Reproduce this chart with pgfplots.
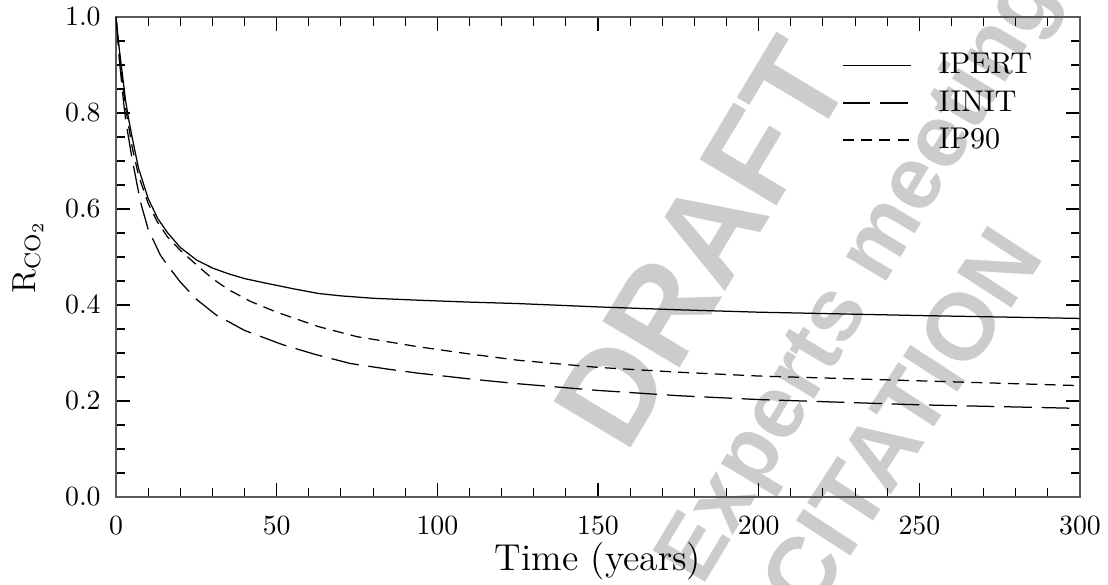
\documentclass[border=0pt]{standalone}
\usepackage{fontspec}
\newfontfamily\wmfont{Liberation Sans}
\usepackage{pgfplots}
\pgfplotsset{compat=1.18}

\pgfplotstableread{
t r
0 1.0
1 0.935
2 0.88
3 0.825
4 0.785
5 0.75
7 0.685
10 0.622
13 0.58
16 0.551
20 0.52
25 0.494
30 0.477
35 0.465
40 0.455
47 0.445
55 0.434
63 0.424
70 0.419
80 0.414
94 0.410
110 0.406
125 0.403
150 0.396
175 0.390
200 0.385
250 0.378
300 0.372
}\ipert

\pgfplotstableread{
t r
0 1.0
1 0.915
2 0.845
3 0.785
5 0.705
7.6 0.615
10 0.558
13.8 0.504
16 0.483
20 0.448
25 0.412
31 0.38
40 0.347
52 0.317
62 0.297
73 0.278
85 0.266
94 0.258
110 0.246
125 0.236
150 0.222
175 0.211
200 0.203
250 0.192
297 0.185
}\iinit

\pgfplotstableread{
t r
0 1.0
1 0.925
2 0.865
3 0.81
5 0.73
7 0.67
10 0.612
12.8 0.574
16 0.542
20 0.514
25 0.484
30 0.455
35 0.432
42 0.407
50 0.385
63 0.355
75 0.334
94 0.313
110 0.298
125 0.285
150 0.270
175 0.260
200 0.252
250 0.242
300 0.232
}\ipninety

\begin{document}
\begin{tikzpicture}
\useasboundingbox (-41.76pt,-31.68pt) rectangle (357.12pt,178.92pt);
\begin{scope}[every node/.style={text=black!20, inner sep=0pt}]
\node[rotate=59, font=\wmfont\bfseries\fontsize{47}{47}\selectfont] at (211.0pt,91.4pt) {DRAFT};
\node[rotate=59, font=\wmfont\bfseries\fontsize{32}{32}\selectfont] at (268.2pt,78.5pt) {Experts meeting};
\node[rotate=57, font=\wmfont\bfseries\fontsize{34}{34}\selectfont] at (282.5pt,27.7pt) {CITATION};
\end{scope}
\begin{axis}[
  width=347.04pt, height=172.8pt, scale only axis,
  xmin=0, xmax=300, ymin=0, ymax=1,
  xtick={0,50,...,300}, ytick={0,0.2,0.4,0.6,0.8,1.0},
  minor x tick num=4, minor y tick num=3,
  tick pos=both, tick align=inside,
  major tick length=5pt, minor tick length=3.3pt,
  every tick/.style={black, line width=0.4pt},
  axis line style={black!65, line width=0.55pt},
  yticklabel style={/pgf/number format/fixed, /pgf/number format/fixed zerofill, /pgf/number format/precision=1},
  y tick label style={xshift=-2pt},
  x tick label style={yshift=-3.7pt},
  tick label style={font=\fontsize{10}{11}\selectfont},
  scaled y ticks=false,
  xlabel={Time (years)},
  ylabel={$\mathrm{R_{CO_2}}$},
  every axis x label/.style={at={(axis description cs:0.5,0)}, anchor=base, yshift=-26.3pt, font=\fontsize{13.5}{15}\selectfont},
  every axis y label/.style={at={(axis description cs:-0.084,0.5)}, anchor=base, rotate=90, font=\fontsize{12}{14}\selectfont},
  legend image code/.code={\draw[#1] (0pt,0pt) -- (24.5pt,0pt);},
  legend cell align=left,
  legend style={draw=none, fill=none, inner sep=0pt, outer sep=0pt,
    at={(0.753,0.924)}, anchor=north west, row sep=4.5pt,
    nodes={inner sep=0pt},
    /tikz/every odd column/.append style={column sep=10pt},
    font=\fontsize{10.8}{12}\selectfont},
]
\addplot[black, line width=0.45pt] table[x=t, y=r] {\ipert};
\addlegendentry{IPERT}
\addplot[black, line width=0.45pt, dash pattern=on 10pt off 3.5pt] table[x=t, y=r] {\iinit};
\addlegendentry{IINIT}
\addplot[black, line width=0.45pt, dash pattern=on 4pt off 2.6pt] table[x=t, y=r] {\ipninety};
\addlegendentry{IP90}
\end{axis}
\end{tikzpicture}
\end{document}
